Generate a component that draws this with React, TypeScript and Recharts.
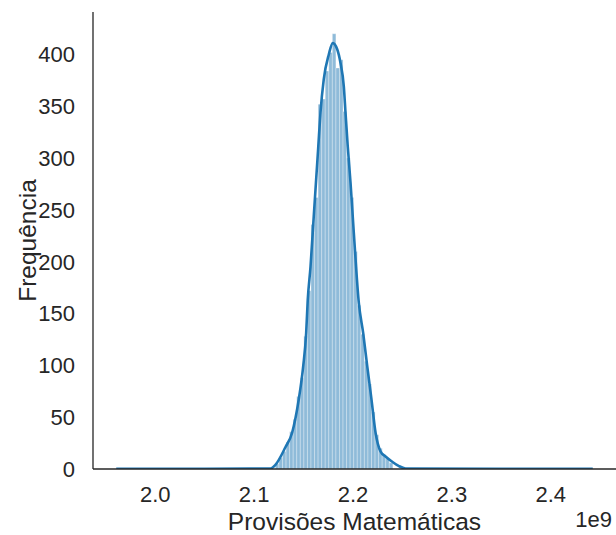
import React from "react";
import {
  ComposedChart,
  Line,
  XAxis,
  YAxis,
  ReferenceArea,
  Label,
} from "recharts";

// histogram bins (in units of 1e9)
const binStart = 2.1215;
const binWidth = 0.0036;
const binCounts = [
  5, 11, 17, 26, 36, 48, 70, 88, 128, 172, 236, 262, 352, 357, 384, 402, 420,
  387, 395, 345, 300, 262, 210, 158, 130, 104, 82, 55, 33, 20, 14, 10, 6,
];

// kde curve
const kdeX = [
  1.9605, 2.05, 2.1165, 2.1215, 2.1316, 2.1384, 2.1451, 2.1496, 2.1526, 2.1542,
  2.157, 2.1603, 2.1648, 2.1671, 2.1704, 2.1755, 2.1795, 2.184, 2.1873, 2.1907,
  2.1924, 2.1947, 2.1975, 2.2008, 2.2059, 2.2103, 2.2144, 2.2187, 2.2228,
  2.2278, 2.2329, 2.2397, 2.2461, 2.2532, 2.35, 2.4425,
];
const kdeY = [
  0.3, 0.3, 0.5, 4, 21, 35, 67, 99, 131, 163, 195, 244, 310, 344, 376, 400, 411,
  405, 392, 369, 344, 311, 276, 228, 160, 131, 99, 67, 35, 17, 12, 7, 3, 0.5,
  0.3, 0.3,
];

const xTicks = [2.0, 2.1, 2.2, 2.3, 2.4];
const yTicks = [0, 50, 100, 150, 200, 250, 300, 350, 400];

const kdeData = kdeX.map((x, i) => ({ x, y: kdeY[i] }));
const bins = binCounts.map((count, i) => ({
  lo: binStart + i * binWidth,
  hi: binStart + (i + 1) * binWidth,
  count,
}));

const FONT = '"Liberation Sans", Arial, sans-serif';
const INK = "#262626";
const BLUE = "#1f77b4";

export default function App() {
  return (
    <div style={{ position: "absolute", left: 0, top: 0, width: 616, height: 535, background: "#fff" }}>
      <ComposedChart
        width={616}
        height={535}
        data={kdeData}
        margin={{ top: 12, right: 0, bottom: 0, left: 0 }}
        style={{ fontFamily: FONT }}
      >
        <XAxis
          dataKey="x"
          type="number"
          domain={[1.937, 2.466]}
          allowDataOverflow
          ticks={xTicks}
          tickFormatter={(v: number) => v.toFixed(1)}
          tickLine={false}
          tickSize={0}
          tickMargin={17}
          height={66}
          axisLine={{ stroke: INK, strokeWidth: 1.3 }}
          tick={{ fill: INK, fontSize: 22, fontFamily: FONT }}
        >
          <Label
            content={({ viewBox }: any) => (
              <g>
                <text
                  x={viewBox.x + viewBox.width / 2}
                  y={530}
                  textAnchor="middle"
                  fill={INK}
                  fontSize={24.5}
                  fontFamily={FONT}
                >
                  Provisões Matemáticas
                </text>
                <text
                  x={612}
                  y={527}
                  textAnchor="end"
                  fill={INK}
                  fontSize={22}
                  fontFamily={FONT}
                >
                  1e9
                </text>
              </g>
            )}
          />
        </XAxis>
        <YAxis
          type="number"
          domain={[0, 441]}
          allowDataOverflow
          ticks={yTicks}
          tickLine={false}
          tickSize={0}
          tickMargin={18}
          width={93}
          axisLine={{ stroke: INK, strokeWidth: 1.3 }}
          tick={{ fill: INK, fontSize: 22, fontFamily: FONT }}
        >
          <Label
            content={({ viewBox }: any) => {
              const cy = viewBox.y + viewBox.height / 2;
              return (
                <text
                  x={27}
                  y={cy}
                  transform={`rotate(-90 27 ${cy})`}
                  textAnchor="middle"
                  dominantBaseline="central"
                  fill={INK}
                  fontSize={24.5}
                  fontFamily={FONT}
                >
                  Frequência
                </text>
              );
            }}
          />
        </YAxis>
        {bins.map((b, i) => (
          <ReferenceArea
            key={`bin-${i}`}
            x1={b.lo}
            x2={b.hi}
            y1={0}
            y2={b.count}
            fill={BLUE}
            fillOpacity={0.5}
            stroke="#ffffff"
            strokeWidth={0.4}
            strokeOpacity={0.8}
          />
        ))}
        <Line
          dataKey="y"
          type="monotone"
          stroke={BLUE}
          strokeWidth={2.6}
          dot={false}
          isAnimationActive={false}
        />
      </ComposedChart>
    </div>
  );
}
